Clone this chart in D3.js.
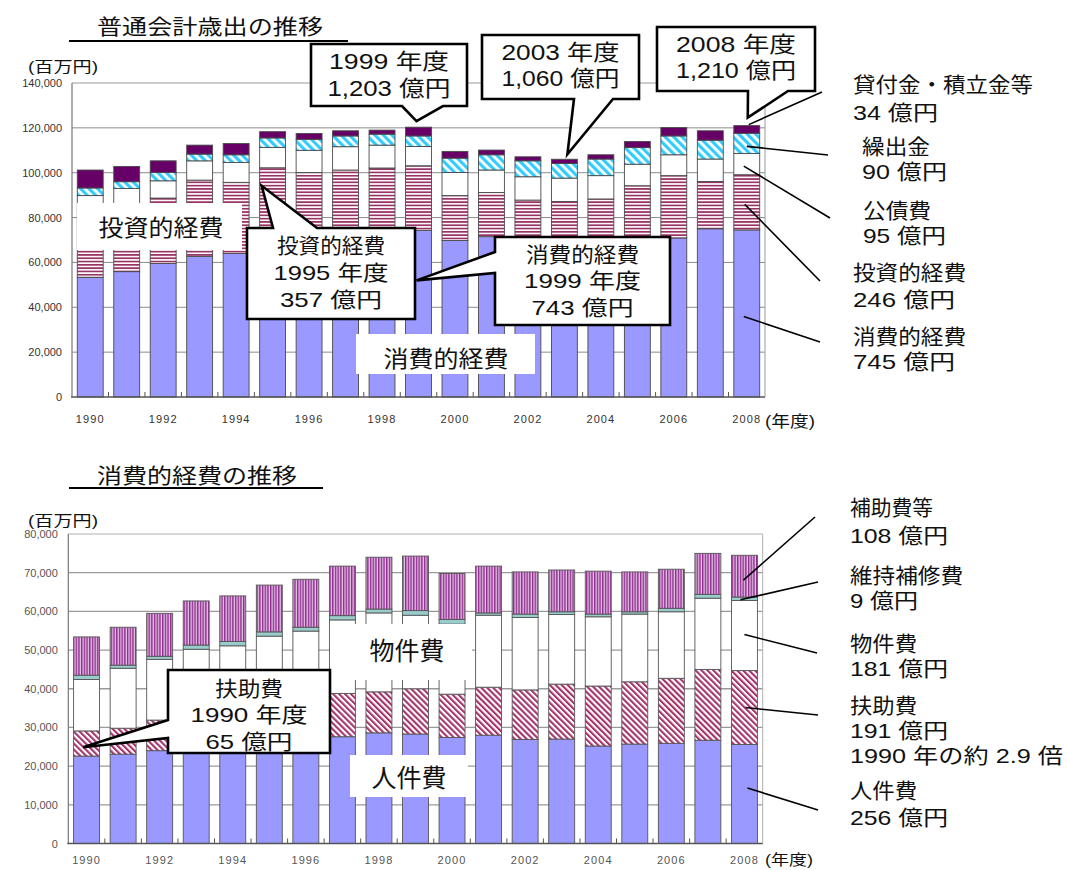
<!DOCTYPE html>
<html><head><meta charset="utf-8">
<script src="https://cdn.jsdelivr.net/npm/d3@7"></script>
<style>body{margin:0;background:#fff}svg{display:block}</style>
</head><body>
<svg id="c" width="1067" height="870"></svg>
<script>
// ---------- DATA (百万円) ----------
const years = [1990,1991,1992,1993,1994,1995,1996,1997,1998,1999,2000,2001,2002,2003,2004,2005,2006,2007,2008];
const xTickYears = [1990,1992,1994,1996,1998,2000,2002,2004,2006,2008];

// 普通会計歳出
const topKeys = ["消費的経費","投資的経費","公債費","繰出金","貸付金・積立金等"];
const shohi      = [53400,55900,59500,62700,64000,66500,68300,71700,74000,74300,69800,71500,70200,70500,70400,70200,70900,75000,74500];
const toshi      = [30000,29600,29200,34000,31700,35700,31800,29500,28100,28800,20000,19700,17600,16700,17900,24000,27800,21100,24600];
const kosai      = [6400,7500,7700,8600,8900,9100,9900,10400,10200,8600,10300,10000,10400,10400,10400,9600,9300,10000,9500];
const kuridashi  = [3400,3000,3700,3000,3400,4200,4900,4800,4900,4700,6400,6800,7100,6500,7400,7400,8400,8400,9000];
const kashitsuke = [8000,6800,5200,4000,5000,2800,2600,2300,1800,3900,3000,2100,1800,1900,1900,2700,3700,4200,3400];
const yTicksTop = [0,20000,40000,60000,80000,100000,120000,140000];

// 消費的経費
const bottomKeys = ["人件費","扶助費","物件費","維持補修費","補助費等"];
const jinken = [22600,23100,24000,24300,24600,25000,25500,27600,28600,28300,27400,28000,26900,27000,25200,25700,25900,26700,25600];
const fujo   = [6500,6700,7900,8700,9400,10500,11500,11200,10600,11700,11200,12400,12800,14200,15500,16100,16800,18300,19100];
const bukken = [13300,15500,15700,17200,17100,18100,17900,19000,20400,19000,18100,18600,18700,18000,17900,17500,17200,18400,18100];
const iji    = [1100,800,800,1100,1100,1100,1000,1100,1000,1200,1200,600,900,700,700,600,900,1000,900];
const hojo   = [9900,9800,11100,11400,11800,12100,12400,12800,13400,14100,11900,12100,10900,10800,11100,10300,10100,10600,10800];
const yTicksBottom = [0,10000,20000,30000,40000,50000,60000,70000,80000];

// ---------- STYLE ----------
const JP = "'Liberation Sans','Noto Sans CJK JP',sans-serif";
const NUM = "'Liberation Sans',Arial,sans-serif";
const svg = d3.select("#c");
const defs = svg.append("defs");

function pattern(id, w, h, bg, fg, fw, rot, horizontal){
  const p = defs.append("pattern").attr("id",id).attr("patternUnits","userSpaceOnUse")
    .attr("width",w).attr("height",h);
  if (rot) p.attr("patternTransform",`rotate(${rot})`);
  p.append("rect").attr("width",w).attr("height",h).attr("fill",bg);
  if (horizontal) p.append("rect").attr("width",w).attr("height",fw).attr("fill",fg);
  else p.append("rect").attr("width",fw).attr("height",h).attr("fill",fg);
}
pattern("pToshi", 10, 3.3, "#ffffff", "#993366", 1.7, 0, true);
pattern("pKuri", 6, 10, "#ffffff", "#33CCFF", 3.2, -45, false);
pattern("pFujo", 4.2, 10, "#ffffff", "#A3336B", 2.1, -45, false);
pattern("pHojo", 2.7, 10, "#E4C4E4", "#8E2A8E", 1.4, 0, false);

function drawChart(o){
  const g = svg.append("g");
  const x = d3.scaleBand().domain(years).range([o.x0,o.x1]).paddingInner(0.29).paddingOuter(0.145);
  const y = d3.scaleLinear().domain([0,o.max]).range([o.yb,o.yt]);
  const rows = years.map((yr,i)=>{const r={year:yr}; o.keys.forEach((k,j)=>r[k]=o.series[j][i]); return r;});
  const stack = d3.stack().keys(o.keys)(rows);

  g.append("g").selectAll("line").data(o.ticks.filter(t=>t>0 && t<o.max)).join("line")
    .attr("x1",o.x0).attr("x2",o.x1).attr("y1",d=>y(d)).attr("y2",d=>y(d))
    .attr("stroke",o.grid).attr("stroke-width",o.gridW);
  g.append("line").attr("x1",o.x0).attr("x2",o.x1).attr("y1",y(o.max)).attr("y2",y(o.max)).attr("stroke",o.frame).attr("stroke-width",1);
  g.append("line").attr("x1",o.x1).attr("x2",o.x1).attr("y1",y(o.max)).attr("y2",y(0)).attr("stroke",o.frame).attr("stroke-width",1);

  g.append("g").selectAll("g").data(stack).join("g").attr("fill",(d,i)=>o.fills[i])
    .selectAll("rect").data(d=>d).join("rect")
    .attr("x",d=>x(d.data.year)).attr("width",x.bandwidth())
    .attr("y",d=>y(d[1])).attr("height",d=>y(d[0])-y(d[1]))
    .attr("stroke",o.barStroke).attr("stroke-width",0.9);

  const ax = g.append("g").attr("transform",`translate(${o.x0},0)`)
    .call(d3.axisLeft(y).tickValues(o.ticks).tickFormat(d3.format(",")).tickSize(0).tickPadding(o.pad));
  ax.select(".domain").remove();
  ax.selectAll("text").attr("font-family",NUM).attr("font-size",11).attr("fill",o.tickCol);
  g.append("line").attr("x1",o.x0).attr("x2",o.x0).attr("y1",y(o.max)).attr("y2",y(0)).attr("stroke","#777").attr("stroke-width",1.2);
  g.append("line").attr("x1",o.x0-1).attr("x2",o.x1).attr("y1",y(0)).attr("y2",y(0)).attr("stroke","#555").attr("stroke-width",1.6);

  const step = x.step();
  g.append("g").selectAll("line").data(years.slice(1)).join("line")
    .attr("x1",d=>x(d)-(step-x.bandwidth())/2).attr("x2",d=>x(d)-(step-x.bandwidth())/2)
    .attr("y1",y(0)).attr("y2",y(0)-5).attr("stroke","#555").attr("stroke-width",1);

  const bx = g.append("g").attr("transform",`translate(0,${y(0)})`)
    .call(d3.axisBottom(x).tickValues(xTickYears).tickSize(0).tickPadding(o.xpad));
  bx.select(".domain").remove();
  bx.selectAll("text").attr("font-family",NUM).attr("font-size",11).attr("letter-spacing",1.1).attr("fill",o.tickCol);

  return {g,x,y,stack};
}

function txt(x, y, s, size, width, anchor){
  const t = svg.append("text").attr("x",x).attr("y",y).attr("dominant-baseline","central")
    .attr("font-family",JP).attr("font-size",size).attr("fill","#111")
    .attr("text-anchor",anchor||"start").text(s);
  if (width) t.attr("textLength",width).attr("lengthAdjust","spacingAndGlyphs");
  return t;
}
function whiteBox(x0,y0,x1,y1){
  svg.append("rect").attr("x",x0).attr("y",y0).attr("width",x1-x0).attr("height",y1-y0).attr("fill","#fff");
}
function callout(box, side, b1, tip, b2, lines){
  const [x0,y0,x1,y1] = box;
  let pts;
  if (side==="bottom") pts=[[x0,y0],[x1,y0],[x1,y1],[b2,y1],tip,[b1,y1],[x0,y1]];
  else if (side==="top") pts=[[x0,y0],[b1,y0],tip,[b2,y0],[x1,y0],[x1,y1],[x0,y1]];
  else pts=[[x0,y0],[x1,y0],[x1,y1],[x0,y1],[x0,b2],tip,[x0,b1]];
  svg.append("path").attr("d",d3.line()(pts)+"Z").attr("fill","#fff").attr("stroke","#000")
    .attr("stroke-width",2.6).attr("stroke-linejoin","miter");
  const cx=(x0+x1)/2;
  lines.forEach(l=>txt(cx,l[1],l[0],l[2],l[3],"middle"));
}
function leader(x1,y1,x2,y2){
  svg.append("line").attr("x1",x1).attr("y1",y1).attr("x2",x2).attr("y2",y2)
    .attr("stroke","#000").attr("stroke-width",1.6);
}
function segMid(stackArr, k, i){ const s=stackArr[k][i]; return (s[0]+s[1])/2; }

// ---------- TOP CHART ----------
const T = drawChart({x0:72,x1:765,yb:397,yt:83,max:140000,ticks:yTicksTop,keys:topKeys,
  series:[shohi,toshi,kosai,kuridashi,kashitsuke],
  fills:["#9999FF","url(#pToshi)","#ffffff","url(#pKuri)","#660066"],
  barStroke:"#4a4a4a",grid:"#8c8c8c",gridW:1,frame:"#9a9a9a",tickCol:"#333",pad:10,xpad:18});

txt(210,26,"普通会計歳出の推移",21,226,"middle");
svg.append("line").attr("x1",69).attr("x2",348).attr("y1",41).attr("y2",41).attr("stroke","#000").attr("stroke-width",2);
txt(28,66,"(百万円)",15,70);
txt(765,421,"(年度)",16,50);

const tI = years.indexOf(1999), tJ = years.indexOf(2003), tK = years.indexOf(2008), t95 = years.indexOf(1995);
const totalTop = i => shohi[i]+toshi[i]+kosai[i]+kuridashi[i]+kashitsuke[i];
const cTop = yr => T.x(yr)+T.x.bandwidth()/2;

whiteBox(77,203,242,250);
txt(161,228,"投資的経費",23,125,"middle");
whiteBox(356,334,535,374);
txt(446,359,"消費的経費",23,125,"middle");

callout([311,44,467,106],"bottom",402,[cTop(1999)-2,T.y(totalTop(tI))-6],443,
  [["1999 年度",61,22,120],["1,203 億円",88,22,123]]);
callout([482,35,639,99],"bottom",574,[cTop(2003)+3,T.y(totalTop(tJ))-5],613,
  [["2003 年度",52,22,118],["1,060 億円",78,22,118]]);
callout([657,27,815,91],"bottom",748,[cTop(2008)+1,T.y(totalTop(tK))-8],788,
  [["2008 年度",44,22,120],["1,210 億円",70,22,120]]);
callout([247,228,415,319],"top",273,[T.x(1995)+2,T.y(shohi[t95]+toshi[t95])+18],317,
  [["投資的経費",245,21,108],["1995 年度",272,21,115],["357 億円",299,21,102]]);
callout([495,237,670,325],"left",252,[T.x(1999)+11,T.y(shohi[tI]*0.7)],273,
  [["消費的経費",254,21,113],["1999 年度",280,21,117],["743 億円",307,21,102]]);

leader(cTop(2008)+2, T.y(totalTop(tK))-1, 822, 92);
leader(cTop(2008), T.y(segMid(T.stack,3,tK))+3, 828, 155);
leader(cTop(2008)-3, T.y(segMid(T.stack,2,tK))+2, 830, 218);
leader(cTop(2008)-2, T.y(segMid(T.stack,1,tK))+2, 820, 281);
leader(cTop(2008)-3, T.y(segMid(T.stack,0,tK))+3, 820, 342);

[[853,84,"貸付金・積立金等",180],[853,112,"34 億円",85],[862,146,"繰出金",68],[862,171,"90 億円",85],
 [863,210,"公債費",68],[863,235,"95 億円",83],[853,272,"投資的経費",113],[853,299,"246 億円",102],
 [853,336,"消費的経費",113],[853,361,"745 億円",102]].forEach(d=>txt(d[0],d[1],d[2],21,d[3]));

// ---------- BOTTOM CHART ----------
const B = drawChart({x0:68.3,x1:762.7,yb:843.5,yt:534,max:80000,ticks:yTicksBottom,keys:bottomKeys,
  series:[jinken,fujo,bukken,iji,hojo],
  fills:["#9999FF","url(#pFujo)","#ffffff","#99CCCC","url(#pHojo)"],
  barStroke:"#555",grid:"#9a9a9a",gridW:1.3,frame:"#b0b0b0",tickCol:"#555",pad:10.5,xpad:13});

txt(197,475,"消費的経費の推移",21,200,"middle");
svg.append("line").attr("x1",69).attr("x2",323).attr("y1",488).attr("y2",488).attr("stroke","#000").attr("stroke-width",2);
txt(28,520,"(百万円)",15,70);
txt(765,859,"(年度)",15,48);

whiteBox(352,624,472,680);
txt(407,651,"物件費",25,75,"middle");
whiteBox(350,755,468,797);
txt(409,778,"人件費",25,75,"middle");

const b90 = years.indexOf(1990), b08 = years.indexOf(2008);
callout([168,670,330,753],"left",720,[B.x(1990)+9.5,B.y(jinken[b90]+fujo[b90]*0.35)],738,
  [["扶助費",688,21,68],["1990 年度",714,21,117],["65 億円",741,21,87]]);

const cB = B.x(2008)+B.x.bandwidth()/2;
leader(cB-1, B.y(segMid(B.stack,4,b08))+4, 815, 517);
leader(cB-4, B.y(segMid(B.stack,3,b08))+1, 818, 582);
leader(cB, B.y(segMid(B.stack,2,b08))-1, 817, 653);
leader(cB+1, B.y(segMid(B.stack,1,b08)), 818, 715);
leader(cB+3, B.y(jinken[b08]*0.56), 818, 810);

[[850,507,"補助費等",83],[850,535,"108 億円",98],[850,575,"維持補修費",113],[850,600,"9 億円",68],
 [850,643,"物件費",67],[850,668,"181 億円",98],[850,705,"扶助費",67],[850,730,"191 億円",98],
 [850,755,"1990 年の約 2.9 倍",213],[850,790,"人件費",67],[850,817,"256 億円",98]].forEach(d=>txt(d[0],d[1],d[2],21,d[3]));
</script>
</body></html>
